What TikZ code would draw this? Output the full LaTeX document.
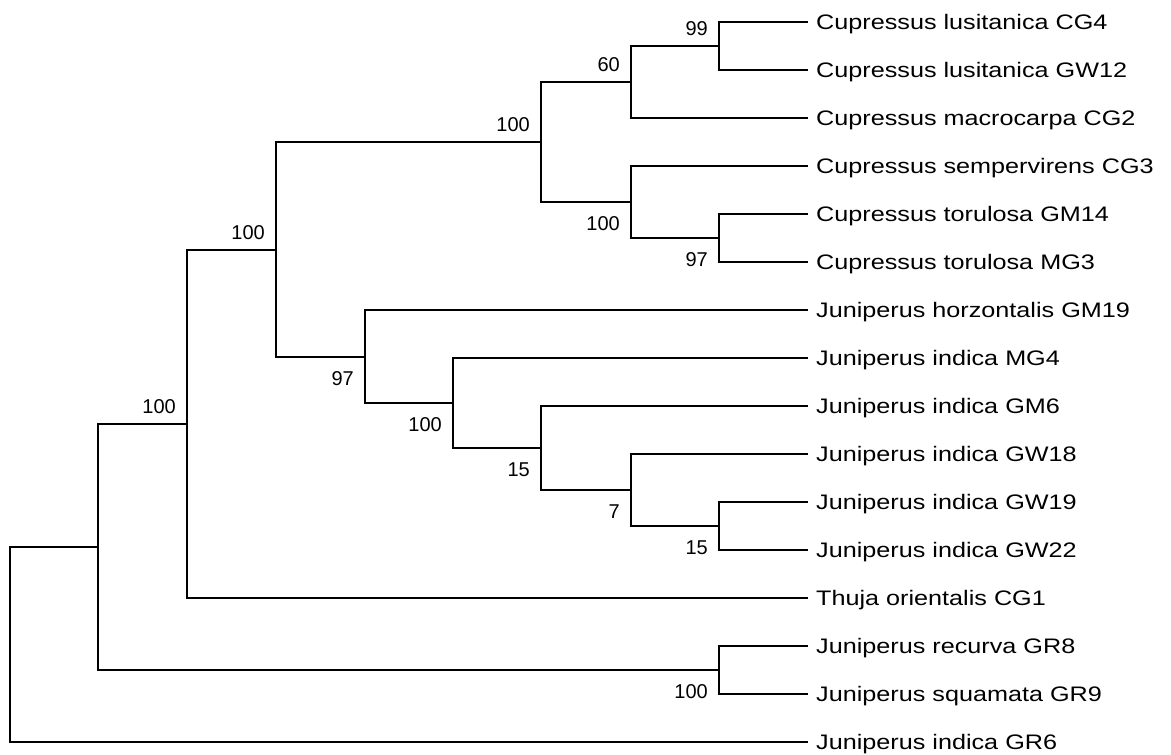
\documentclass[tikz,border=0pt]{standalone}
\usepackage{fontspec}
\setmainfont{Liberation Sans}
\newfontfamily\leaffont[FakeStretch=1.2]{Liberation Sans}
\begin{document}
\begin{tikzpicture}[x=1pt,y=-1pt,
  br/.style={line width=1.3pt, draw=black},
  leaf/.style={anchor=west, inner xsep=8pt, inner ysep=0pt, text height=17pt, text depth=2pt, font=\leaffont\fontsize{21}{24}\selectfont},
  bs/.style={anchor=east, inner sep=0pt, text height=14pt, text depth=0pt, font=\fontsize{20}{22}\selectfont}]
\fill[white] (0,0) rectangle (1171,755);
\useasboundingbox (0,0) rectangle (1171,755);

% leaves
\node[leaf] (l1)  at (808,22)  {Cupressus lusitanica CG4};
\node[leaf] (l2)  at (808,70)  {Cupressus lusitanica GW12};
\node[leaf] (l3)  at (808,118) {Cupressus macrocarpa CG2};
\node[leaf] (l4)  at (808,166) {Cupressus sempervirens CG3};
\node[leaf] (l5)  at (808,214) {Cupressus torulosa GM14};
\node[leaf] (l6)  at (808,262) {Cupressus torulosa MG3};
\node[leaf] (l7)  at (808,310) {Juniperus horzontalis GM19};
\node[leaf] (l8)  at (808,358) {Juniperus indica MG4};
\node[leaf] (l9)  at (808,406) {Juniperus indica GM6};
\node[leaf] (l10) at (808,454) {Juniperus indica GW18};
\node[leaf] (l11) at (808,502) {Juniperus indica GW19};
\node[leaf] (l12) at (808,550) {Juniperus indica GW22};
\node[leaf] (l13) at (808,598) {Thuja orientalis CG1};
\node[leaf] (l14) at (808,646) {Juniperus recurva GR8};
\node[leaf] (l15) at (808,694) {Juniperus squamata GR9};
\node[leaf] (l16) at (808,742) {Juniperus indica GR6};

% internal nodes
\coordinate (n99)  at (719,46);
\coordinate (n60)  at (631,82);
\coordinate (nCup) at (541,142);
\coordinate (nCS)  at (631,202);
\coordinate (n97t) at (719,238);
\coordinate (nTop) at (276,250);
\coordinate (nJ97) at (365,357);
\coordinate (nJ100) at (453,403);
\coordinate (n15a) at (541,448);
\coordinate (n7)   at (631,490);
\coordinate (n15b) at (719,526);
\coordinate (nA)   at (187,424);
\coordinate (nGR)  at (719,670);
\coordinate (nB)   at (98,547);
\coordinate (root) at (10,644);

% branches
\draw[br] (n99) |- (l1.west);  \draw[br] (n99) |- (l2.west);
\draw[br] (n60) |- (n99);      \draw[br] (n60) |- (l3.west);
\draw[br] (n97t) |- (l5.west); \draw[br] (n97t) |- (l6.west);
\draw[br] (nCS) |- (l4.west);  \draw[br] (nCS) |- (n97t);
\draw[br] (nCup) |- (n60);     \draw[br] (nCup) |- (nCS);
\draw[br] (n15b) |- (l11.west); \draw[br] (n15b) |- (l12.west);
\draw[br] (n7) |- (l10.west);  \draw[br] (n7) |- (n15b);
\draw[br] (n15a) |- (l9.west); \draw[br] (n15a) |- (n7);
\draw[br] (nJ100) |- (l8.west); \draw[br] (nJ100) |- (n15a);
\draw[br] (nJ97) |- (l7.west); \draw[br] (nJ97) |- (nJ100);
\draw[br] (nTop) |- (nCup);    \draw[br] (nTop) |- (nJ97);
\draw[br] (nA) |- (nTop);      \draw[br] (nA) |- (l13.west);
\draw[br] (nGR) |- (l14.west); \draw[br] (nGR) |- (l15.west);
\draw[br] (nB) |- (nA);        \draw[br] (nB) |- (nGR);
\draw[br] (root) |- (nB);      \draw[br] (root) |- (l16.west);

% bootstrap values
\node[bs] (b99)   at (708,28)  {99};
\node[bs] (b60)   at (620,64)  {60};
\node[bs] (bCup)  at (530,124) {100};
\node[bs] (bCS)   at (620,223) {100};
\node[bs] (b97t)  at (708,259) {97};
\node[bs] (bTop)  at (265,232) {100};
\node[bs] (bJ97)  at (354,378) {97};
\node[bs] (bJ100) at (442,424) {100};
\node[bs] (b15a)  at (530,469) {15};
\node[bs] (b7)    at (620,511) {7};
\node[bs] (b15b)  at (708,547) {15};
\node[bs] (bA)    at (176,406) {100};
\node[bs] (bGR)   at (708,691) {100};
\end{tikzpicture}
\end{document}
